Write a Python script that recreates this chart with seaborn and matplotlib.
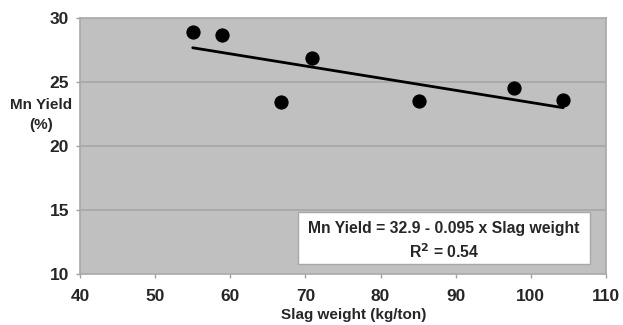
import matplotlib
matplotlib.use("Agg")
import matplotlib.pyplot as plt
from matplotlib.patches import Rectangle
import seaborn as sns
import pandas as pd

slag_weight = [55.0, 58.9, 66.8, 70.9, 85.1, 97.8, 104.3]
mn_yield = [28.9, 28.7, 23.4, 26.9, 23.5, 24.5, 23.6]
intercept = 32.9
slope = -0.095
r_squared = 0.54
x_ticks = [40, 50, 60, 70, 80, 90, 100, 110]
y_ticks = [10, 15, 20, 25, 30]

sns.set_theme(style="white")
plt.rcParams['font.family'] = ['Liberation Sans', 'DejaVu Sans']
plt.rcParams['font.weight'] = 'bold'
plt.rcParams['mathtext.default'] = 'bf'

df = pd.DataFrame({"x": slag_weight, "y": mn_yield})
fit_x = [min(slag_weight), max(slag_weight)]
fit = pd.DataFrame({"x": fit_x, "y": [intercept + slope * v for v in fit_x]})

W, H = 623, 325
fig = plt.figure(figsize=(W / 100, H / 100), dpi=100)
ax = fig.add_axes([80/W, 1 - 274/H, (606-80)/W, (274-18)/H])
ax.set_facecolor("#c0c0c0")

for yv in [15, 20, 25]:
    ax.axhline(yv, color="#a6a6a6", lw=1.2, zorder=0)

sns.lineplot(data=fit, x="x", y="y", ax=ax, color="black", lw=2, zorder=2)
sns.scatterplot(data=df, x="x", y="y", ax=ax, color="black", s=90,
                edgecolor="black", zorder=3)

ax.set_xlim(40, 110)
ax.set_ylim(10, 30)
ax.set_xticks(x_ticks)
ax.set_yticks(y_ticks)
ax.tick_params(axis="both", labelsize=12.5, length=3, color="#a0a0a0",
               width=1, direction="out")
ax.tick_params(axis="x", bottom=True, pad=8)
ax.tick_params(axis="y", left=True, pad=5)
for lbl in ax.get_xticklabels() + ax.get_yticklabels():
    lbl.set_fontweight("bold")

for s in ax.spines.values():
    s.set_color("#a8a8a8")
    s.set_linewidth(1.2)

ax.set_xlabel("")
ax.set_ylabel("")
fig.text(354/W, 1 - 315/H, "Slag weight (kg/ton)", ha="center", va="center",
         fontsize=11, fontweight="bold")
fig.text(41/W, 1 - 115/H, "Mn Yield\n(%)", ha="center", va="center",
         fontsize=11, fontweight="bold", linespacing=1.5)

fig.patches.append(Rectangle((298/W, 1 - 264/H), (590-298)/W, (264-212)/H,
                             transform=fig.transFigure, facecolor="white",
                             edgecolor="#a8a8a8", lw=1, zorder=5))
fig.text(444/W, 1 - 228/H,
         f"Mn Yield = {intercept} - {abs(slope)} x Slag weight",
         ha="center", va="center", fontsize=11.3, fontweight="bold", zorder=6)
fig.text(444/W, 1 - 252/H, f"R$^{{2}}$ = {r_squared}",
         ha="center", va="center", fontsize=11.3, fontweight="bold", zorder=6)

fig.savefig("out.png", dpi=100)
